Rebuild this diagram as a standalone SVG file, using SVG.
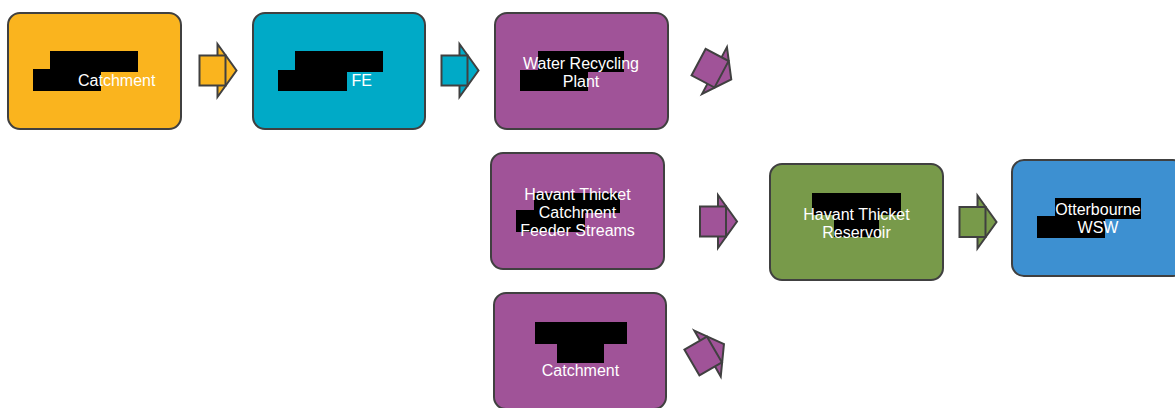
<svg xmlns="http://www.w3.org/2000/svg" width="1175" height="408" viewBox="0 0 1175 408">
  <defs>
    <style>
      .box { stroke: #404040; stroke-width: 2; }
      .arr { stroke: #404040; stroke-width: 2; stroke-linejoin: miter; }
      .lbl { font-family: "Liberation Sans", Arial, sans-serif; font-size: 16px; fill: #ffffff; }
      .mid { text-anchor: middle; }
      .mask { fill: #000000; }
      .yellow { fill: #FAB41E; }
      .teal { fill: #00AAC7; }
      .purple { fill: #A05398; }
      .green { fill: #789A4A; }
      .blue { fill: #3D90D1; }
    </style>
    <!-- block arrow: origin at the middle of the head's base, pointing along +x -->
    <g id="blockArrow">
      <polygon class="arr" points="0,-26.5 19,0 0,26.5"/>
      <rect class="arr" x="-18" y="-15" width="26" height="30"/>
    </g>
  </defs>

  <rect width="1175" height="408" fill="#ffffff"/>

  <!-- connectors -->
  <g id="connectors">
    <use href="#blockArrow" class="yellow" transform="translate(217.5,70.5)"/>
    <use href="#blockArrow" class="teal" transform="translate(459.5,70.5)"/>
    <use href="#blockArrow" class="purple" transform="translate(714.5,70.5) rotate(28)"/>
    <use href="#blockArrow" class="purple" transform="translate(718,221.5)"/>
    <use href="#blockArrow" class="green" transform="translate(977.5,222)"/>
    <use href="#blockArrow" class="purple" transform="translate(707.5,353.5) rotate(-30)"/>
  </g>

  <!-- catchment -->
  <g id="node-catchment">
    <rect class="box yellow" x="8" y="13" width="173" height="116" rx="12"/>
    <rect class="mask" x="50" y="51" width="88" height="21"/>
    <rect class="mask" x="33" y="69" width="68" height="22"/>
    <text class="lbl" x="78" y="86">Catchment</text>
  </g>

  <!-- FE -->
  <g id="node-fe">
    <rect class="box teal" x="253" y="13" width="172" height="116" rx="12"/>
    <rect class="mask" x="295" y="51" width="88" height="21"/>
    <rect class="mask" x="278" y="70" width="69" height="21"/>
    <text class="lbl" x="351.5" y="86">FE</text>
  </g>

  <!-- water recycling plant -->
  <g id="node-wrp">
    <rect class="box purple" x="495" y="13" width="173" height="116" rx="12"/>
    <rect class="mask" x="538" y="51" width="86" height="21"/>
    <rect class="mask" x="520" y="70" width="68" height="21"/>
    <text class="lbl mid" x="581" y="68.5">Water Recycling</text>
    <text class="lbl mid" x="581" y="86.5">Plant</text>
  </g>

  <!-- feeder streams -->
  <g id="node-feeder">
    <rect class="box purple" x="491" y="153" width="173" height="116" rx="12"/>
    <rect class="mask" x="534" y="193" width="86" height="20"/>
    <rect class="mask" x="516" y="210" width="69" height="22"/>
    <text class="lbl mid" x="577.5" y="199.5">Havant Thicket</text>
    <text class="lbl mid" x="577.5" y="217.5">Catchment</text>
    <text class="lbl mid" x="577.5" y="235.5">Feeder Streams</text>
  </g>

  <!-- reservoir -->
  <g id="node-reservoir">
    <rect class="box green" x="770" y="164" width="173" height="116" rx="12"/>
    <rect class="mask" x="812" y="193" width="89" height="22"/>
    <rect class="mask" x="834" y="213" width="45" height="24"/>
    <text class="lbl mid" x="856.5" y="219.5">Havant Thicket</text>
    <text class="lbl mid" x="856.5" y="237.5">Reservoir</text>
  </g>

  <!-- treatment works -->
  <g id="node-wsw">
    <rect class="box blue" x="1012" y="160" width="173" height="116" rx="12"/>
    <rect class="mask" x="1055" y="198" width="86" height="21"/>
    <rect class="mask" x="1037" y="216" width="68" height="22"/>
    <text class="lbl mid" x="1098" y="215">Otterbourne</text>
    <text class="lbl mid" x="1098" y="233">WSW</text>
  </g>

  <!-- lower catchment -->
  <g id="node-catchment-2">
    <rect class="box purple" x="494" y="293" width="172" height="116" rx="12"/>
    <rect class="mask" x="535" y="322" width="92" height="22"/>
    <rect class="mask" x="557" y="342" width="47" height="21"/>
    <text class="lbl mid" x="580.5" y="376">Catchment</text>
  </g>
</svg>
